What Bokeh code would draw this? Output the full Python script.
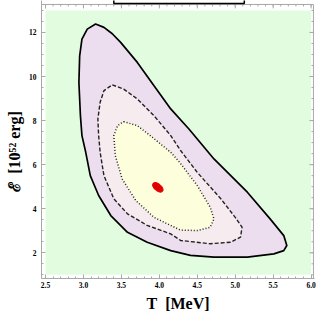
from bokeh.plotting import figure
from bokeh.models import FixedTicker, PrintfTickFormatter, Range1d
from bokeh.embed import file_html
from bokeh.resources import INLINE

# ---- data ----
region_T = [2.5, 6.0]
region_E = [1.0, 13.0]

outer_T = [3.16, 3.27, 3.38, 3.49, 3.71, 3.93, 4.15, 4.39, 4.72, 5.16, 5.46, 5.64, 5.68, 5.64, 5.51,
           5.16, 4.72, 4.41, 4.15, 3.84, 3.58, 3.36, 3.20, 3.09, 3.03, 2.98, 2.96, 2.94, 2.95, 2.98, 3.05]
outer_E = [12.38, 12.23, 11.94, 11.55, 10.64, 9.58, 8.53, 7.62, 6.26, 4.75, 3.54, 2.78, 2.33, 2.10, 1.95,
           1.80, 1.80, 1.88, 2.10, 2.48, 2.93, 3.69, 4.60, 5.50, 6.56, 7.32, 8.22, 9.73, 10.94, 11.70, 12.15]

mid_T = [3.38, 3.53, 3.71, 3.93, 4.15, 4.28, 4.50, 4.81, 5.00, 5.09, 5.07, 4.94, 4.67, 4.28,
         4.15, 3.84, 3.58, 3.40, 3.27, 3.22, 3.20, 3.19, 3.22, 3.27]
mid_E = [9.62, 9.43, 8.98, 8.22, 7.32, 6.64, 5.65, 4.45, 3.61, 3.16, 2.71, 2.48, 2.41, 2.56,
         2.86, 3.24, 3.77, 4.45, 5.50, 6.56, 7.32, 8.07, 8.83, 9.36]

inner_T = [3.53, 3.71, 3.88, 4.15, 4.28, 4.50, 4.67, 4.72, 4.67, 4.50, 4.28, 4.15, 3.93, 3.69,
           3.51, 3.42, 3.40, 3.45]
inner_E = [7.95, 7.77, 7.32, 6.56, 6.05, 5.05, 4.07, 3.54, 3.16, 3.01, 3.03, 3.24, 3.61, 4.37,
           5.35, 6.41, 7.32, 7.77]

best_T = [3.98]
best_E = [4.97]

x_ticks = [2.5, 3.0, 3.5, 4.0, 4.5, 5.0, 5.5, 6.0]
y_ticks = [2, 4, 6, 8, 10, 12]
x_minor = [round(2.5 + 0.1 * i, 2) for i in range(36)]
y_minor = [1 + 0.5 * i for i in range(25)]

# plot frame (Mathematica-style padded frame) and the cut-off legend box
frame_T = [2.447, 6.031]
frame_E = [0.833, 13.27]
legend_box_T = [3.40, 5.12]
legend_box_E = [13.31, 14.0]

FRAME = "#a8a8a8"
SERIF = "Liberation Serif"

p = figure(frame_width=273, frame_height=278,
           x_range=Range1d(frame_T[0], 6.045), y_range=Range1d(frame_E[0], 13.45),
           output_backend="svg", toolbar_location=None,
           min_border_left=41, min_border_top=0, min_border_right=18, min_border_bottom=41)
p.grid.visible = False
p.outline_line_color = None
p.background_fill_color = "white"
p.border_fill_color = "white"

# background region
p.quad(left=region_T[0], right=region_T[1], bottom=region_E[0], top=region_E[1],
       fill_color="#e2fce0", line_color=None)

# contours
p.patch(outer_T, outer_E, fill_color="#ecdeef", line_color="black", line_width=1.7)
p.patch(mid_T, mid_E, fill_color="#f6ebee", line_color="#222222", line_width=1.4, line_dash="4 2")
p.patch(inner_T, inner_E, fill_color="#fdfedb", line_color="#222222", line_width=1.5, line_dash="1 2")
p.ellipse(x=best_T, y=best_E, width=12.5, height=7, width_units="screen", height_units="screen",
          angle=-0.7, fill_color="#e00000", line_color="#e00000")

# frame: top and right edges with inward ticks
p.quad(left=frame_T[0], right=frame_T[1], bottom=frame_E[0], top=frame_E[1],
       fill_color=None, line_color=FRAME, line_width=1)
px_T = (frame_T[1] - frame_T[0]) / 272.0
px_E = (frame_E[1] - frame_E[0]) / 274.0
p.segment(x0=x_ticks, x1=x_ticks, y0=[frame_E[1]] * len(x_ticks),
          y1=[frame_E[1] - 4 * px_E] * len(x_ticks), line_color=FRAME)
p.segment(x0=x_minor, x1=x_minor, y0=[frame_E[1]] * len(x_minor),
          y1=[frame_E[1] - 2 * px_E] * len(x_minor), line_color=FRAME)
p.segment(x0=[frame_T[1]] * len(y_ticks), x1=[frame_T[1] - 4 * px_T] * len(y_ticks),
          y0=y_ticks, y1=y_ticks, line_color=FRAME)
p.segment(x0=[frame_T[1]] * len(y_minor), x1=[frame_T[1] - 2 * px_T] * len(y_minor),
          y0=y_minor, y1=y_minor, line_color=FRAME)

# legend box (cut off at the top)
p.quad(left=legend_box_T[0], right=legend_box_T[1], bottom=legend_box_E[0], top=legend_box_E[1],
       fill_color="white", line_color="black", line_width=1.5)

def style_axis(ax):
    ax.axis_line_color = FRAME
    ax.major_tick_line_color = FRAME
    ax.minor_tick_line_color = FRAME
    ax.major_tick_in = 4
    ax.major_tick_out = 0
    ax.minor_tick_in = 2
    ax.minor_tick_out = 0
    ax.major_label_text_font = SERIF
    ax.major_label_text_font_style = "bold"
    ax.major_label_text_font_size = "7.5px"
    ax.major_label_text_color = "black"
    ax.axis_label_text_font = SERIF
    ax.axis_label_text_font_style = "bold"
    ax.axis_label_text_color = "black"

p.xaxis.ticker = FixedTicker(ticks=x_ticks, minor_ticks=x_minor)
p.xaxis.formatter = PrintfTickFormatter(format="%.1f")
p.yaxis.ticker = FixedTicker(ticks=y_ticks, minor_ticks=y_minor)
p.yaxis.formatter = PrintfTickFormatter(format="%d")
for ax in list(p.xaxis) + list(p.yaxis):
    style_axis(ax)

p.xaxis.major_label_standoff = 3
p.xaxis.axis_label = "T\u00a0\u00a0[MeV]"
p.xaxis.axis_label_text_font_size = "16px"
p.xaxis.axis_label_standoff = 4

p.yaxis.major_label_standoff = 5
p.yaxis.axis_label = "ℰ\u00a0\u00a0[10⁵² erg]" + "\u00a0" * 6
p.yaxis.axis_label_text_font_size = "16px"
p.yaxis.axis_label_standoff = 3

open("out.html", "w").write(file_html(p, INLINE))
